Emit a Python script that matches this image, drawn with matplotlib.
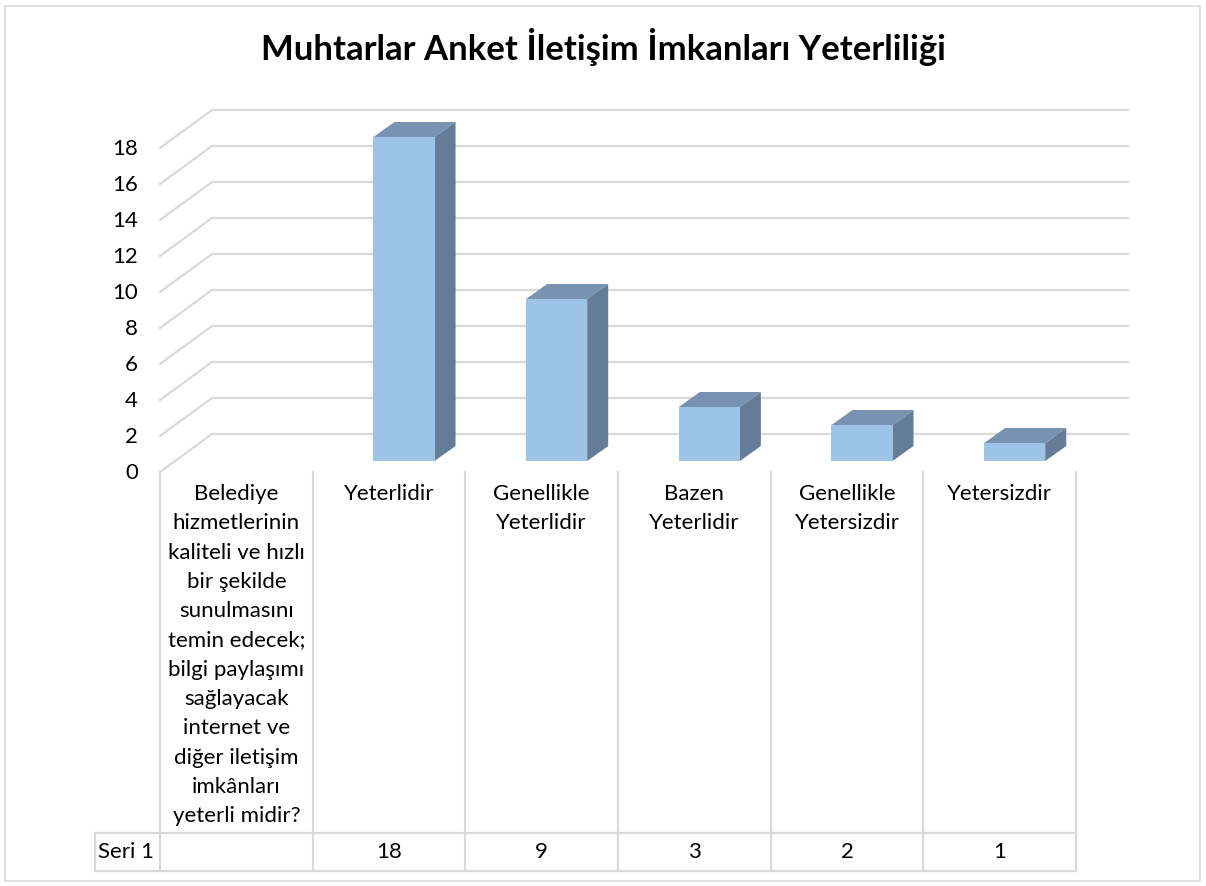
import matplotlib
matplotlib.use("Agg")
import matplotlib.pyplot as plt
from matplotlib.patches import Polygon, Rectangle
from matplotlib.lines import Line2D
from matplotlib.transforms import IdentityTransform

# ---------------- data ----------------
title = "Muhtarlar Anket İletişim İmkanları Yeterliliği"
categories = [
    "Belediye\nhizmetlerinin\nkaliteli ve hızlı\nbir şekilde\nsunulmasını\ntemin edecek;\nbilgi paylaşımı\nsağlayacak\ninternet ve\ndiğer iletişim\nimkânları\nyeterli midir?",
    "Yeterlidir",
    "Genellikle\nYeterlidir",
    "Bazen\nYeterlidir",
    "Genellikle\nYetersizdir",
    "Yetersizdir",
]
values = [None, 18, 9, 3, 2, 1]
series_name = "Seri 1"
yticks = [0, 2, 4, 6, 8, 10, 12, 14, 16, 18]

# ---------------- style ----------------
W, H = 1206, 886
plt.rcParams['font.family'] = ['Lato', 'DejaVu Sans']
GRID = "#D9D9D9"
FRONT = "#9DC3E6"
TOP = "#7793B1"
SIDE = "#647C97"
DEPTH = (52, 38)        # full floor depth in pixels (x right, y up)
BAR_OFF = (15, 11)      # bar front offset inside the depth
BAR_DEPTH = (21, 15)    # bar depth
BAR_W = 0.4
FS = 16

fig = plt.figure(figsize=(W / 100, H / 100), dpi=100)
fig.patch.set_facecolor("white")

def fy(y):
    return 1 - y / H

def fx(x):
    return x / W

# front plane axes: x = category slots, y = value
ax = fig.add_axes([fx(160), fy(472), fx(1076) - fx(160), (472 - 148) / H])
ax.set_xlim(0, len(categories))
ax.set_ylim(0, 18)
ax.axis("off")

ident = IdentityTransform()

def disp(x, y, off=(0, 0)):
    px, py = ax.transData.transform((x, y))
    return (px + off[0], py + off[1])

# gridlines: floor diagonal + back wall
n = len(categories)
for v in yticks:
    p0 = disp(0, v)
    p1 = disp(0, v, DEPTH)
    p2 = disp(n, v, DEPTH)
    fig.add_artist(Line2D([p0[0], p1[0], p2[0]], [p0[1], p1[1], p2[1]],
                          transform=ident, color=GRID, lw=1.6, zorder=1))

# tick labels
for v in yticks:
    x0, y0 = disp(0, v)
    fig.text(x0 - 22, y0 - 1, str(v), transform=ident, ha="right", va="center",
             fontsize=FS)

# 3D bars
for i, v in enumerate(values):
    if v is None:
        continue
    c = i + 0.5
    x0, x1 = c - BAR_W / 2, c + BAR_W / 2
    fbl = disp(x0, 0, BAR_OFF)
    fbr = disp(x1, 0, BAR_OFF)
    ftl = disp(x0, v, BAR_OFF)
    ftr = disp(x1, v, BAR_OFF)

    def back(p):
        return (p[0] + BAR_DEPTH[0], p[1] + BAR_DEPTH[1])
    front = Polygon([fbl, fbr, ftr, ftl], closed=True, transform=ident,
                    facecolor=FRONT, edgecolor="none", zorder=3)
    top = Polygon([ftl, ftr, back(ftr), back(ftl)], closed=True, transform=ident,
                  facecolor=TOP, edgecolor="none", zorder=3)
    side = Polygon([fbr, back(fbr), back(ftr), ftr], closed=True, transform=ident,
                   facecolor=SIDE, edgecolor="none", zorder=3)
    for p in (side, top, front):
        fig.add_artist(p)

# data table
table_top = 472
row_top, row_bot = 833, 871
for k in range(n + 1):
    xk, _ = disp(k, 0)
    fig.add_artist(Line2D([xk, xk], [H - table_top, H - row_bot], transform=ident,
                          color=GRID, lw=1.6, zorder=1))
xl = 95
xr, _ = disp(n, 0)
for yy in (row_top, row_bot):
    fig.add_artist(Line2D([xl, xr], [H - yy, H - yy], transform=ident,
                          color=GRID, lw=1.6, zorder=1))
fig.add_artist(Line2D([xl, xl], [H - row_top, H - row_bot], transform=ident,
                      color=GRID, lw=1.6, zorder=1))

fig.text(xl + 31, H - (row_top + row_bot) / 2, series_name, transform=ident,
         ha="center", va="center", fontsize=FS)

for i, (cat, v) in enumerate(zip(categories, values)):
    cx, _ = disp(i + 0.5, 0)
    fig.text(cx, H - 484, cat, transform=ident, ha="center", va="top",
             fontsize=FS, linespacing=1.58)
    if v is not None:
        fig.text(cx, H - (row_top + row_bot) / 2, str(v), transform=ident,
                 ha="center", va="center", fontsize=FS)

# title
fig.text(fx(603), fy(47), title, ha="center", va="center", fontsize=25,
         fontweight="bold")

# chart border
fig.add_artist(Rectangle((5, 5), W - 11, H - 11, transform=ident, fill=False,
                         edgecolor=GRID, lw=1.2))

fig.savefig("out.png", dpi=100)
